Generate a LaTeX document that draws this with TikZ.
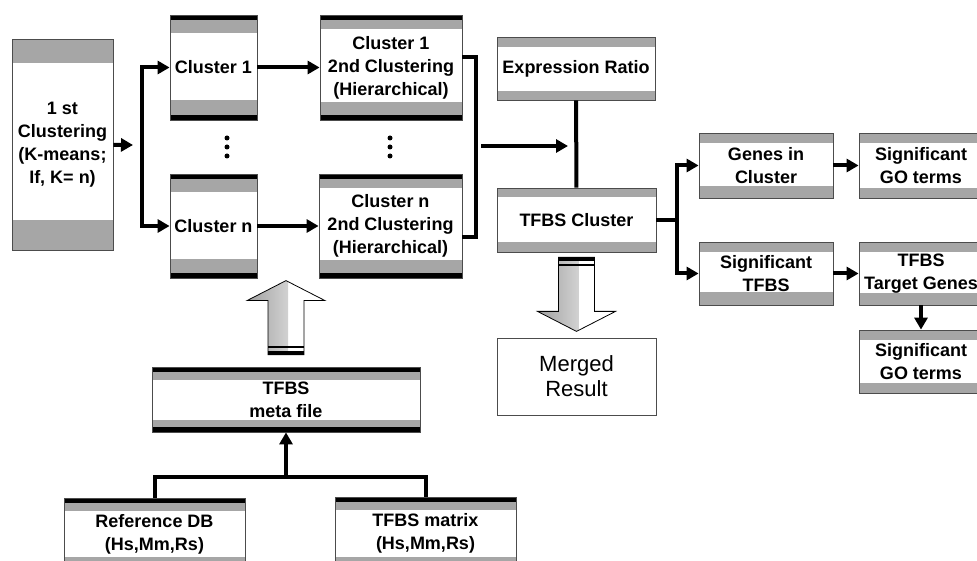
\documentclass[tikz,border=0pt]{standalone}
\usepackage{fontspec}
\setmainfont{Liberation Sans}
\usetikzlibrary{arrows.meta}
\tikzset{
  box/.style={draw=black!70, line width=0.8pt, fill=white, align=center, inner sep=0pt,
    font=\bfseries\fontsize{18}{23}\selectfont},
  bands/.style 2 args={path picture={
    \fill[gray!70] (path picture bounding box.north west) rectangle ([yshift=-#1pt]path picture bounding box.north east);
    \fill[gray!70] (path picture bounding box.south west) rectangle ([yshift=#2pt]path picture bounding box.south east);}},
  barbands/.style 2 args={path picture={
    \fill[gray!70] (path picture bounding box.north west) rectangle ([yshift=-#1pt-5pt]path picture bounding box.north east);
    \fill[gray!70] (path picture bounding box.south west) rectangle ([yshift=#2pt+5pt]path picture bounding box.south east);
    \fill[black] (path picture bounding box.north west) rectangle ([yshift=-5pt]path picture bounding box.north east);
    \fill[black] (path picture bounding box.south west) rectangle ([yshift=5pt]path picture bounding box.south east);}},
  link/.style={line width=4pt},
  arr/.style={line width=4pt, -{Triangle[length=12pt,width=13pt]}},
  pics/fatarrow/.style={code={
    \path[draw=black, line width=0.8pt, fill=white,
      path picture={\shade[left color=gray!75, right color=white]
        (path picture bounding box.south west) rectangle ([xshift=2pt]path picture bounding box.north);}]
      (-18,0) -- (18,0) -- (18,54) -- (39,54) -- (0,74) -- (-39,54) -- (-18,54) -- cycle;
    \fill[black] (-18,0) rectangle (18,4);
    \fill[black] (-18,7) rectangle (18,9);}}
}
\begin{document}
\begin{tikzpicture}[x=1pt, y=-1pt]
            \useasboundingbox (0,0) rectangle (977,561);
            \clip (0,0) rectangle (977,561);
            \node[box, bands={24}{30}, minimum width=101, minimum height=211] (1) at (62.5,144.5) {1 st\\Clustering\\(K-means;\\If, K= n)};
            \node[box, barbands={13}{15}, minimum width=87, minimum height=105] (2) at (213.5,67.5) {Cluster 1};
            \node[box, barbands={13}{14}, minimum width=87, minimum height=104] (3) at (213.5,226) {Cluster n};
            \node[box, barbands={9}{13}, minimum width=142, minimum height=105] (4) at (391,67.5) {Cluster 1\\2nd Clustering\\(Hierarchical)};
            \node[box, barbands={9}{13}, minimum width=143, minimum height=104] (5) at (390.5,226) {Cluster n\\2nd Clustering\\(Hierarchical)};
            \node[box, bands={10}{9}, minimum width=158, minimum height=63] (6) at (576,68.5) {Expression Ratio};
            \node[box, bands={9}{10}, minimum width=159, minimum height=64] (7) at (576.5,220) {TFBS Cluster};
            \node[box, font=\fontsize{22}{25}\selectfont, minimum width=159, minimum height=77] (8) at (576.5,376.5) {Merged\\Result};
            \node[box, bands={10}{12}, minimum width=134, minimum height=65] (9) at (766,165.5) {Genes in\\Cluster};
            \node[box, bands={10}{10}, minimum width=124, minimum height=65] (10) at (921,165.5) {Significant\\GO terms};
            \node[box, bands={10}{13}, minimum width=134, minimum height=63] (11) at (766,273.5) {Significant\\TFBS};
            \node[box, bands={10}{12}, minimum width=124, minimum height=63] (12) at (921,273.5) {TFBS\\Target Genes};
            \node[box, bands={10}{10}, minimum width=124, minimum height=63] (13) at (921,361.5) {Significant\\GO terms};
            \node[box, barbands={8}{7}, minimum width=268, minimum height=65] (14) at (286,399.5) {TFBS\\meta file};
            \node[box, barbands={8}{8}, minimum width=181, minimum height=72] (15) at (154.5,534) {Reference DB\\(Hs,Mm,Rs)};
            \node[box, barbands={8}{8}, minimum width=181, minimum height=73] (16) at (425.5,533.5) {TFBS matrix\\(Hs,Mm,Rs)};
            \coordinate (a) at (133,145);
            \coordinate (b) at (142,145);
            \coordinate (c) at (476,146);
            \coordinate (d) at (481,146);
            \coordinate (e) at (568,146);
            \coordinate (f) at (677,220);
            \coordinate (g) at (286,477);
            \draw[arr]  (1) -- (a);
            \draw[arr]  (b) |- (2.west);
            \draw[arr]  (b) |- (3.west);
            \draw[arr]  (2) -- (4);
            \draw[arr]  (3) -- (5);
            \draw[link] ([yshift=10pt]4.east) -| (c) |- ([yshift=-11pt]5.east);
            \draw[arr]  (d) -- (e);
            \draw[link] (6) -- (7);
            \draw[link] (7) -- (f);
            \draw[arr]  (f) |- (9.west);
            \draw[arr]  (f) |- (11.west);
            \draw[arr]  (9) -- (10);
            \draw[arr]  (11) -- (12);
            \draw[arr]  (12) -- (13);
            \draw[link] (15.north) |- (g) -| (16.north);
            \draw[arr]  (g) -- (14);
            \pic at ([yshift=-5pt]7.south) {fatarrow};
            \pic[yscale=-1] at ([yshift=12pt]14.north) {fatarrow};
            \foreach \y in {138,147,156} {
              \fill (227,\y) circle[radius=2.5pt];
              \fill (390,\y) circle[radius=2.5pt];
            }
        \end{tikzpicture}
\end{document}
